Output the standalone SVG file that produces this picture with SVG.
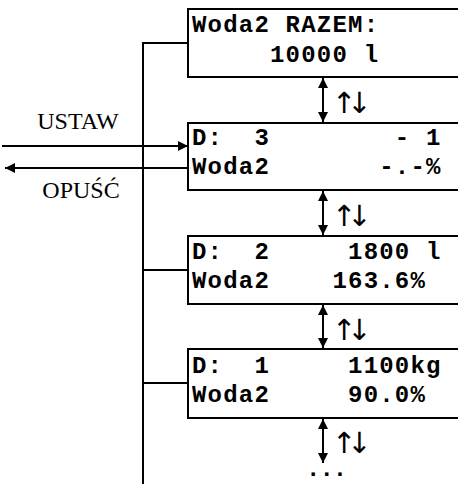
<svg xmlns="http://www.w3.org/2000/svg" width="458" height="484" viewBox="0 0 458 484">
<defs>
<marker id="ah" viewBox="0 0 10 10" refX="10" refY="5" markerWidth="10" markerHeight="10" markerUnits="userSpaceOnUse" orient="auto-start-reverse">
<path d="M0,0 L10,5 L0,10 Z" fill="#000"/>
</marker>
</defs>
<style>
.box{fill:#fff;stroke:#000;stroke-width:2}
.lcd{font-family:"Liberation Mono","Courier New",monospace;font-weight:bold;font-size:24px;letter-spacing:1.2px;fill:#000;white-space:pre}
.dots{font-family:"Liberation Mono",monospace;font-weight:bold;font-size:24px;letter-spacing:-1px;fill:#000}
.lbl{font-family:"Liberation Serif","Times New Roman",serif;font-size:24px;fill:#000}
.ud{font-family:"DejaVu Sans",sans-serif;font-size:29px;letter-spacing:-9px;fill:#000}
.ln{stroke:#000;stroke-width:2;fill:none}
</style>
<rect width="458" height="484" fill="#fff"/>
<g id="connectors">
<path class="ln" d="M143,484 V43 H188"/>
<path class="ln" d="M143,270 H188"/>
<path class="ln" d="M143,383 H188"/>
<path class="ln" d="M2,146 H188" marker-end="url(#ah)"/>
<path class="ln" d="M188,168 H5" marker-end="url(#ah)"/>
<path class="ln" d="M323,78 V122" marker-start="url(#ah)" marker-end="url(#ah)"/>
<path class="ln" d="M323,191 V235" marker-start="url(#ah)" marker-end="url(#ah)"/>
<path class="ln" d="M323,305 V348" marker-start="url(#ah)" marker-end="url(#ah)"/>
<path class="ln" d="M323,419 V463" marker-start="url(#ah)" marker-end="url(#ah)"/>
<text class="lbl" x="78" y="129" text-anchor="middle">USTAW</text>
<text class="lbl" x="81" y="198" text-anchor="middle">OPUŚĆ</text>
<text class="ud" x="332" y="113">↑↓</text>
<text class="ud" x="332" y="226">↑↓</text>
<text class="ud" x="332" y="340">↑↓</text>
<text class="ud" x="332" y="453">↑↓</text>
<text class="dots" x="306" y="476">...</text>
</g>
<g id="box1">
<rect class="box" x="188" y="9" width="280" height="68"/>
<text class="lcd" x="192" y="32">Woda2 RAZEM:</text>
<text class="lcd" x="192" y="62">     10000 l</text>
</g>
<g id="box2">
<rect class="box" x="188" y="123" width="280" height="67"/>
<text class="lcd" x="192" y="145">D:  3        - 1</text>
<text class="lcd" x="192" y="174">Woda2       -.-%</text>
</g>
<g id="box3">
<rect class="box" x="188" y="236" width="280" height="68"/>
<text class="lcd" x="192" y="259">D:  2     1800 l</text>
<text class="lcd" x="192" y="288">Woda2    163.6%</text>
</g>
<g id="box4">
<rect class="box" x="188" y="349" width="280" height="69"/>
<text class="lcd" x="192" y="373">D:  1     1100kg</text>
<text class="lcd" x="192" y="402">Woda2     90.0%</text>
</g>
</svg>
